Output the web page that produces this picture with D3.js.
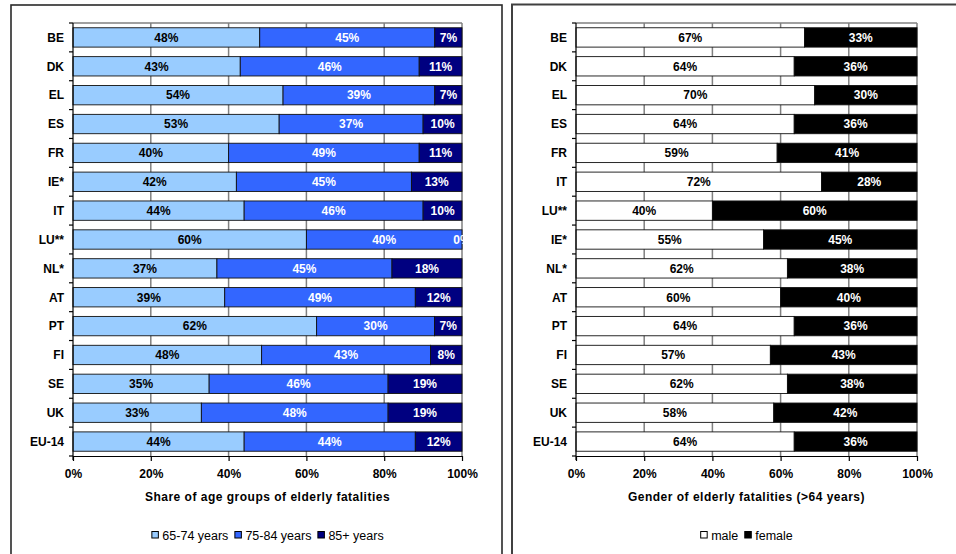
<!DOCTYPE html>
<html><head><meta charset="utf-8">
<script src="https://cdn.jsdelivr.net/npm/d3@7"></script>
<style>
html,body{margin:0;padding:0;background:#fff;}
svg{display:block;font-family:"Liberation Sans",Arial,sans-serif;}
</style></head>
<body>
<svg id="chart" width="956" height="554"></svg>
<script>
// ---- Data: left chart (age groups) ----
const ageCountries = ["BE","DK","EL","ES","FR","IE*","IT","LU**","NL*","AT","PT","FI","SE","UK","EU-14"];
const age65_74 = [48,43,54,53,40,42,44,60,37,39,62,48,35,33,44];
const age75_84 = [45,46,39,37,49,45,46,40,45,49,30,43,46,48,44];
const age85p   = [7,11,7,10,11,13,10,0,18,12,7,8,19,19,12];
const ageSeries = ["65-74 years","75-84 years","85+ years"];
// ---- Data: right chart (gender) ----
const genderCountries = ["BE","DK","EL","ES","FR","IT","LU**","IE*","NL*","AT","PT","FI","SE","UK","EU-14"];
const male   = [67,64,70,64,59,72,40,55,62,60,64,57,62,58,64];
const female = [33,36,30,36,41,28,60,45,38,40,36,43,38,42,36];
const genderSeries = ["male","female"];
const xTicks = [0,0.2,0.4,0.6,0.8,1];

const svg = d3.select("#chart");
const FONT = "'Liberation Sans',Arial,sans-serif";

// frames
svg.append("rect").attr("x",11).attr("y",5).attr("width",491).attr("height",600)
  .attr("fill","none").attr("stroke","#2a2a2a").attr("stroke-width",1.6);
svg.append("rect").attr("x",512).attr("y",4.5).attr("width",500).attr("height",600)
  .attr("fill","none").attr("stroke","#404040").attr("stroke-width",2);

function drawPanel(opt){
  const {id, x0, x1, cats, seriesVals, keys, colors, textColors, title} = opt;
  const top = 23, bottom = 456;
  const x = d3.scaleLinear().domain([0,1]).range([x0,x1]);
  const y = d3.scaleBand().domain(cats).range([top,bottom]).paddingInner(0.33).paddingOuter(0.165);
  const rows = cats.map((c,i)=>{ const o={cat:c}; keys.forEach((k,j)=>o[k]=seriesVals[j][i]); return o; });
  const stacked = d3.stack().keys(keys).offset(d3.stackOffsetExpand)(rows);
  const g = svg.append("g");

  // gridlines
  g.append("g").selectAll("line").data([0.2,0.4,0.6,0.8,1]).join("line")
    .attr("x1",d=>x(d)).attr("x2",d=>x(d)).attr("y1",top).attr("y2",bottom)
    .attr("stroke","#808080").attr("stroke-width",1.5);
  g.append("line").attr("x1",x0).attr("x2",x1).attr("y1",top).attr("y2",top)
    .attr("stroke","#808080").attr("stroke-width",1.5);

  // clip
  svg.append("clipPath").attr("id","clip"+id).append("rect")
    .attr("x",x0).attr("y",top-2).attr("width",x1-x0+2).attr("height",bottom-top+4);

  // bars
  const bars = g.append("g");
  stacked.forEach((s,j)=>{
    bars.append("g").selectAll("rect").data(s).join("rect")
      .attr("x",d=>x(d[0])).attr("width",d=>Math.max(0,x(d[1])-x(d[0])))
      .attr("y",d=>y(d.data.cat)).attr("height",y.bandwidth())
      .attr("fill",colors[j]).attr("stroke","#111").attr("stroke-width",0.9);
  });
  // labels
  const lbl = g.append("g").attr("clip-path","url(#clip"+id+")");
  stacked.forEach((s,j)=>{
    lbl.append("g").selectAll("text").data(s).join("text")
      .attr("x",d=>(x(d[0])+x(d[1]))/2).attr("y",d=>y(d.data.cat)+y.bandwidth()/2)
      .attr("dy","0.36em").attr("text-anchor","middle")
      .attr("font-size",12).attr("font-weight","bold").attr("fill",textColors[j])
      .text(d=>d.data[keys[j]]+"%");
  });

  // left axis
  g.append("line").attr("x1",x0).attr("x2",x0).attr("y1",top).attr("y2",bottom+4).attr("stroke","#000").attr("stroke-width",1.2);
  const bounds = cats.map(c=>y(c)-y.step()*y.paddingInner()/2).concat([bottom]);
  bounds[0] = top;
  g.append("g").selectAll("line").data(bounds).join("line")
    .attr("x1",x0-4).attr("x2",x0).attr("y1",d=>d).attr("y2",d=>d).attr("stroke","#000").attr("stroke-width",1.2);
  g.append("g").selectAll("text").data(cats).join("text")
    .attr("x",x0-9).attr("y",d=>y(d)+y.bandwidth()/2).attr("dy","0.36em")
    .attr("text-anchor","end").attr("font-size",12).attr("font-weight","bold").text(d=>d);

  // bottom axis
  const ax = g.append("g").attr("transform",`translate(0,${bottom})`)
    .call(d3.axisBottom(x).tickValues(xTicks).tickFormat(d3.format(".0%")).tickSize(5).tickSizeOuter(0));
  ax.select(".domain").attr("stroke","#000").attr("stroke-width",1.2);
  ax.selectAll(".tick line").attr("stroke","#000").attr("stroke-width",1.2);
  ax.selectAll(".tick text").attr("font-size",12).attr("font-weight","bold").attr("font-family",FONT)
    .attr("fill","#000").attr("dy",0).attr("y",21.5);

  // title
  g.append("text").attr("x",(x0+x1)/2).attr("y",501).attr("text-anchor","middle")
    .attr("font-size",12).attr("font-weight","bold").style("letter-spacing","0.5px").text(title);

  // legend
  const leg = g.append("g");
  let cx = 0;
  const items = keys.map((k,j)=>{
    const t = leg.append("text").attr("font-size",12.5).attr("y",540).text(k);
    const w = t.node().getComputedTextLength();
    const it = {t,w,start:cx,j};
    cx += 11 + w + 6;
    return it;
  });
  const total = cx - 6;
  const lx = (x0+x1)/2 - total/2;
  items.forEach(it=>{
    leg.append("rect").attr("x",lx+it.start+0.5).attr("y",531.5).attr("width",6.5).attr("height",6.5)
      .attr("fill",colors[it.j]).attr("stroke","#000").attr("stroke-width",1);
    it.t.attr("x",lx+it.start+11);
  });
}

drawPanel({id:"L", x0:73, x1:462, cats:ageCountries, seriesVals:[age65_74,age75_84,age85p],
  keys:ageSeries, colors:["#99CCFF","#3366FF","#000080"], textColors:["#000","#fff","#fff"],
  title:"Share of age groups of elderly fatalities"});
drawPanel({id:"R", x0:576, x1:917, cats:genderCountries, seriesVals:[male,female],
  keys:genderSeries, colors:["#FFFFFF","#000000"], textColors:["#000","#fff"],
  title:"Gender of elderly fatalities (>64 years)"});
</script>
</body></html>
